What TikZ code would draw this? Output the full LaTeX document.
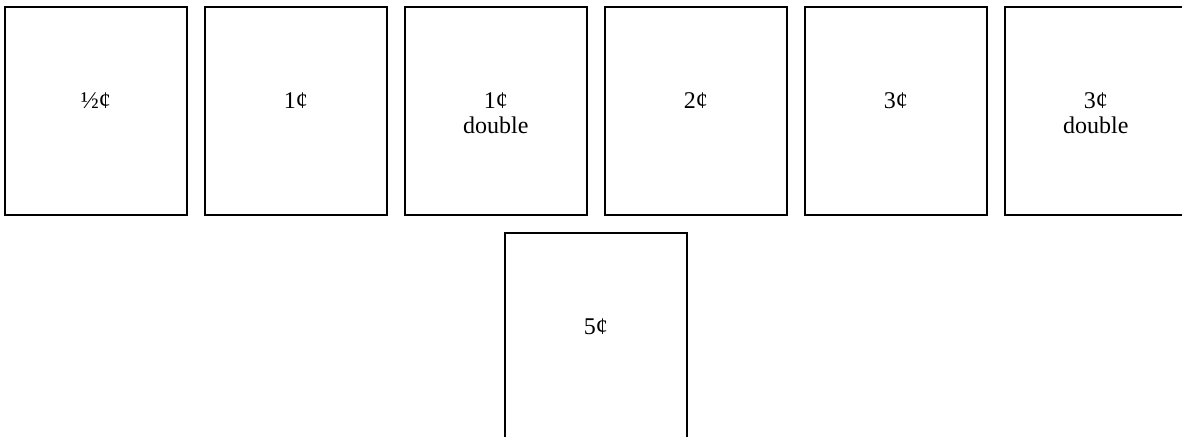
\documentclass[tikz,border=0pt]{standalone}
\usepackage{fontspec}
\setmainfont{Liberation Serif}
\usetikzlibrary{positioning,calc}

\begin{document}
\begin{tikzpicture}[
    x=0.5pt, y=-0.5pt,
    node distance=9.25pt,
    coin/.style={rectangle, draw, line width=1pt, minimum width=90.75pt, minimum height=104pt, inner sep=0pt, outer sep=0pt},
    value/.style={align=center, inner sep=0pt, font=\fontsize{12}{12.5}\selectfont}
]
    \useasboundingbox (0,0) rectangle (1182,436);
    % top row of stamps
    \node [coin] (half) at (95.75,111) {};
    \node [coin, right=of half] (one) {};
    \node [coin, right=of one] (onedbl) {};
    \node [coin, right=of onedbl] (two) {};
    \node [coin, right=of two] (three) {};
    \node [coin, right=of three] (threedbl) {};
    % second row
    \node [coin, below=9pt of $(onedbl.south)!0.5!(two.south)$] (five) {};

    \node [value, below=42.5pt of half.north] (halftxt) {½¢};
    \node [value, below=42.5pt of one.north] (onetxt) {1¢};
    \node [value, below=42.5pt of onedbl.north] (onedbltxt) {1¢\\double};
    \node [value, below=42.5pt of two.north] (twotxt) {2¢};
    \node [value, below=42.5pt of three.north] (threetxt) {3¢};
    \node [value, below=42.5pt of threedbl.north] (threedbltxt) {3¢\\double};
    \node [value, below=42.5pt of five.north] (fivetxt) {5¢};
\end{tikzpicture}
\end{document}
